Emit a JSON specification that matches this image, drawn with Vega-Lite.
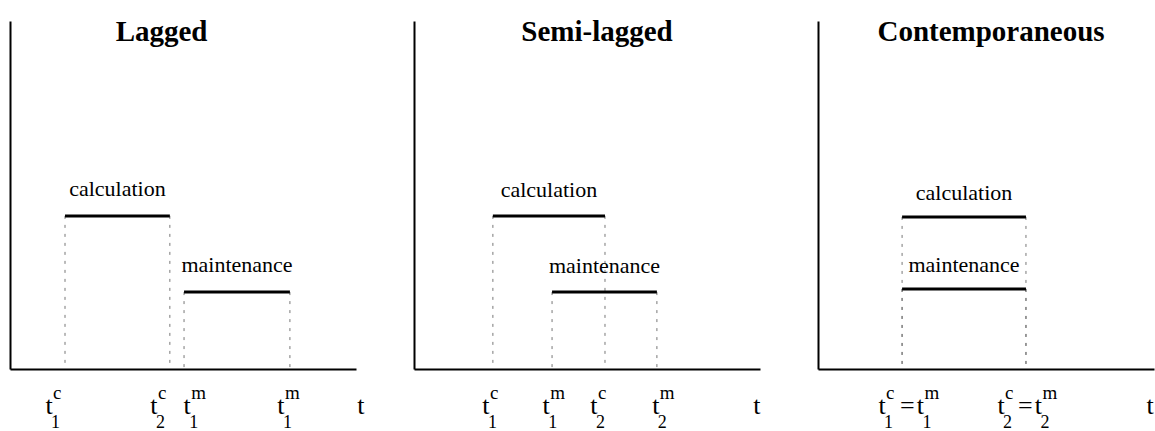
{
  "$schema": "https://vega.github.io/schema/vega-lite/v6.json",
  "background": "white",
  "padding": {"left": 10, "top": 18, "right": 0, "bottom": 0},
  "spacing": 58,
  "bounds": "flush",
  "config": {
    "view": {"stroke": null},
    "axis": {"domain": true, "domainColor": "black", "domainWidth": 2, "ticks": false, "labels": false, "grid": false},
    "text": {"font": "Liberation Serif", "color": "black"}
  },
  "datasets": {
    "processes": [
      {"panel": "Lagged", "process": "calculation", "start": 15.9, "end": 46.2, "level": 44},
      {"panel": "Lagged", "process": "maintenance", "start": 50.3, "end": 80.9, "level": 22.1},
      {"panel": "Semi-lagged", "process": "calculation", "start": 22.8, "end": 55.2, "level": 44},
      {"panel": "Semi-lagged", "process": "maintenance", "start": 39.9, "end": 70.2, "level": 22.1},
      {"panel": "Contemporaneous", "process": "calculation", "start": 24.3, "end": 60.1, "level": 43.7},
      {"panel": "Contemporaneous", "process": "maintenance", "start": 24.3, "end": 60.1, "level": 23}
    ],
    "ticks": [
      {"panel": "Lagged", "pos": 11.3, "main": "t", "sup": "c", "sub": "1"},
      {"panel": "Lagged", "pos": 41.6, "main": "t", "sup": "c", "sub": "2"},
      {"panel": "Lagged", "pos": 51.2, "main": "t", "sup": "m", "sub": "1"},
      {"panel": "Lagged", "pos": 78.3, "main": "t", "sup": "m", "sub": "1"},
      {"panel": "Lagged", "pos": 101.4, "main": "t", "sup": "", "sub": ""},
      {"panel": "Semi-lagged", "pos": 20.8, "main": "t", "sup": "c", "sub": "1"},
      {"panel": "Semi-lagged", "pos": 38.2, "main": "t", "sup": "m", "sub": "1"},
      {"panel": "Semi-lagged", "pos": 52.0, "main": "t", "sup": "c", "sub": "2"},
      {"panel": "Semi-lagged", "pos": 69.9, "main": "t", "sup": "m", "sub": "2"},
      {"panel": "Semi-lagged", "pos": 99.1, "main": "t", "sup": "", "sub": ""},
      {"panel": "Contemporaneous", "pos": 18.5, "main": "t", "sup": "c", "sub": "1"},
      {"panel": "Contemporaneous", "pos": 25.8, "main": "=", "sup": "", "sub": ""},
      {"panel": "Contemporaneous", "pos": 29.6, "main": "t", "sup": "m", "sub": "1"},
      {"panel": "Contemporaneous", "pos": 52.9, "main": "t", "sup": "c", "sub": "2"},
      {"panel": "Contemporaneous", "pos": 59.9, "main": "=", "sup": "", "sub": ""},
      {"panel": "Contemporaneous", "pos": 63.7, "main": "t", "sup": "m", "sub": "2"},
      {"panel": "Contemporaneous", "pos": 96.0, "main": "t", "sup": "", "sub": ""}
    ],
    "titles": [
      {"panel": "Lagged", "title": "Lagged"},
      {"panel": "Semi-lagged", "title": "Semi-lagged"},
      {"panel": "Contemporaneous", "title": "Contemporaneous"}
    ]
  },
  "hconcat": [
    {
      "width": 346, "height": 348,
      "layer": [
        {"data": {"name": "processes"}, "transform": [{"filter": "datum.panel === 'Lagged'"}],
         "mark": {"type": "rule", "strokeDash": [3, 6], "strokeWidth": 1, "color": "#777"},
         "encoding": {
           "x": {"field": "start", "type": "quantitative", "scale": {"domain": [0, 100], "nice": false, "zero": false}, "title": null},
           "y": {"field": "level", "type": "quantitative", "scale": {"domain": [0, 100], "nice": false}, "title": null},
           "y2": {"datum": 0}}},
        {"data": {"name": "processes"}, "transform": [{"filter": "datum.panel === 'Lagged'"}],
         "mark": {"type": "rule", "strokeDash": [3, 6], "strokeWidth": 1, "color": "#777"},
         "encoding": {
           "x": {"field": "end", "type": "quantitative", "title": null},
           "y": {"field": "level", "type": "quantitative", "title": null},
           "y2": {"datum": 0}}},
        {"data": {"name": "processes"}, "transform": [{"filter": "datum.panel === 'Lagged'"}],
         "mark": {"type": "rule", "strokeWidth": 3, "color": "black"},
         "encoding": {
           "x": {"field": "start", "type": "quantitative", "title": null},
           "x2": {"field": "end"},
           "y": {"field": "level", "type": "quantitative", "title": null}}},
        {"data": {"name": "processes"}, "transform": [{"filter": "datum.panel === 'Lagged'"}, {"fold": ["start", "end"], "as": ["edge", "time"]}],
         "mark": {"type": "text", "font": "Liberation Serif", "fontSize": 22, "dy": -20, "baseline": "alphabetic"},
         "encoding": {
           "x": {"aggregate": "mean", "field": "time", "type": "quantitative", "title": null},
           "y": {"aggregate": "mean", "field": "level", "type": "quantitative", "title": null},
           "text": {"field": "process"}}},
        {"data": {"name": "ticks"}, "transform": [{"filter": "datum.panel === 'Lagged'"}],
         "mark": {"type": "text", "font": "Liberation Serif", "fontSize": 26, "dy": 45, "baseline": "alphabetic"},
         "encoding": {
           "x": {"field": "pos", "type": "quantitative", "title": null},
           "y": {"datum": 0},
           "text": {"field": "main"}}},
        {"data": {"name": "ticks"}, "transform": [{"filter": "datum.panel === 'Lagged'"}],
         "mark": {"type": "text", "font": "Liberation Serif", "fontSize": 19, "dy": 30, "dx": 4, "align": "left", "baseline": "alphabetic"},
         "encoding": {
           "x": {"field": "pos", "type": "quantitative", "title": null},
           "y": {"datum": 0},
           "text": {"field": "sup"}}},
        {"data": {"name": "ticks"}, "transform": [{"filter": "datum.panel === 'Lagged'"}],
         "mark": {"type": "text", "font": "Liberation Serif", "fontSize": 18, "dy": 59, "dx": 2, "align": "left", "baseline": "alphabetic"},
         "encoding": {
           "x": {"field": "pos", "type": "quantitative", "title": null},
           "y": {"datum": 0},
           "text": {"field": "sub"}}},
        {"data": {"name": "titles"}, "transform": [{"filter": "datum.panel === 'Lagged'"}],
         "mark": {"type": "text", "font": "Liberation Serif", "fontSize": 29, "fontWeight": "bold", "dy": 20, "baseline": "alphabetic"},
         "encoding": {
           "x": {"datum": 43.8},
           "y": {"datum": 100},
           "text": {"field": "title"}}}
      ]
    },
    {
      "width": 346, "height": 348,
      "layer": [
        {"data": {"name": "processes"}, "transform": [{"filter": "datum.panel === 'Semi-lagged'"}],
         "mark": {"type": "rule", "strokeDash": [3, 6], "strokeWidth": 1, "color": "#777"},
         "encoding": {
           "x": {"field": "start", "type": "quantitative", "scale": {"domain": [0, 100], "nice": false, "zero": false}, "title": null},
           "y": {"field": "level", "type": "quantitative", "scale": {"domain": [0, 100], "nice": false}, "title": null},
           "y2": {"datum": 0}}},
        {"data": {"name": "processes"}, "transform": [{"filter": "datum.panel === 'Semi-lagged'"}],
         "mark": {"type": "rule", "strokeDash": [3, 6], "strokeWidth": 1, "color": "#777"},
         "encoding": {
           "x": {"field": "end", "type": "quantitative", "title": null},
           "y": {"field": "level", "type": "quantitative", "title": null},
           "y2": {"datum": 0}}},
        {"data": {"name": "processes"}, "transform": [{"filter": "datum.panel === 'Semi-lagged'"}],
         "mark": {"type": "rule", "strokeWidth": 3, "color": "black"},
         "encoding": {
           "x": {"field": "start", "type": "quantitative", "title": null},
           "x2": {"field": "end"},
           "y": {"field": "level", "type": "quantitative", "title": null}}},
        {"data": {"name": "processes"}, "transform": [{"filter": "datum.panel === 'Semi-lagged'"}, {"fold": ["start", "end"], "as": ["edge", "time"]}],
         "mark": {"type": "text", "font": "Liberation Serif", "fontSize": 22, "dy": -19, "baseline": "alphabetic"},
         "encoding": {
           "x": {"aggregate": "mean", "field": "time", "type": "quantitative", "title": null},
           "y": {"aggregate": "mean", "field": "level", "type": "quantitative", "title": null},
           "text": {"field": "process"}}},
        {"data": {"name": "ticks"}, "transform": [{"filter": "datum.panel === 'Semi-lagged'"}],
         "mark": {"type": "text", "font": "Liberation Serif", "fontSize": 26, "dy": 45, "baseline": "alphabetic"},
         "encoding": {
           "x": {"field": "pos", "type": "quantitative", "title": null},
           "y": {"datum": 0},
           "text": {"field": "main"}}},
        {"data": {"name": "ticks"}, "transform": [{"filter": "datum.panel === 'Semi-lagged'"}],
         "mark": {"type": "text", "font": "Liberation Serif", "fontSize": 19, "dy": 30, "dx": 4, "align": "left", "baseline": "alphabetic"},
         "encoding": {
           "x": {"field": "pos", "type": "quantitative", "title": null},
           "y": {"datum": 0},
           "text": {"field": "sup"}}},
        {"data": {"name": "ticks"}, "transform": [{"filter": "datum.panel === 'Semi-lagged'"}],
         "mark": {"type": "text", "font": "Liberation Serif", "fontSize": 18, "dy": 59, "dx": 2, "align": "left", "baseline": "alphabetic"},
         "encoding": {
           "x": {"field": "pos", "type": "quantitative", "title": null},
           "y": {"datum": 0},
           "text": {"field": "sub"}}},
        {"data": {"name": "titles"}, "transform": [{"filter": "datum.panel === 'Semi-lagged'"}],
         "mark": {"type": "text", "font": "Liberation Serif", "fontSize": 29, "fontWeight": "bold", "dy": 20, "baseline": "alphabetic"},
         "encoding": {
           "x": {"datum": 52.9},
           "y": {"datum": 100},
           "text": {"field": "title"}}}
      ]
    },
    {
      "width": 336, "height": 348,
      "layer": [
        {"data": {"name": "processes"}, "transform": [{"filter": "datum.panel === 'Contemporaneous'"}],
         "mark": {"type": "rule", "strokeDash": [3, 6], "strokeWidth": 1, "color": "#777"},
         "encoding": {
           "x": {"field": "start", "type": "quantitative", "scale": {"domain": [0, 97.1], "nice": false, "zero": false}, "title": null},
           "y": {"field": "level", "type": "quantitative", "scale": {"domain": [0, 100], "nice": false}, "title": null},
           "y2": {"datum": 0}}},
        {"data": {"name": "processes"}, "transform": [{"filter": "datum.panel === 'Contemporaneous'"}],
         "mark": {"type": "rule", "strokeDash": [3, 6], "strokeWidth": 1, "color": "#777"},
         "encoding": {
           "x": {"field": "end", "type": "quantitative", "title": null},
           "y": {"field": "level", "type": "quantitative", "title": null},
           "y2": {"datum": 0}}},
        {"data": {"name": "processes"}, "transform": [{"filter": "datum.panel === 'Contemporaneous'"}],
         "mark": {"type": "rule", "strokeWidth": 3, "color": "black"},
         "encoding": {
           "x": {"field": "start", "type": "quantitative", "title": null},
           "x2": {"field": "end"},
           "y": {"field": "level", "type": "quantitative", "title": null}}},
        {"data": {"name": "processes"}, "transform": [{"filter": "datum.panel === 'Contemporaneous'"}, {"fold": ["start", "end"], "as": ["edge", "time"]}],
         "mark": {"type": "text", "font": "Liberation Serif", "fontSize": 22, "dy": -17, "baseline": "alphabetic"},
         "encoding": {
           "x": {"aggregate": "mean", "field": "time", "type": "quantitative", "title": null},
           "y": {"aggregate": "mean", "field": "level", "type": "quantitative", "title": null},
           "text": {"field": "process"}}},
        {"data": {"name": "ticks"}, "transform": [{"filter": "datum.panel === 'Contemporaneous'"}],
         "mark": {"type": "text", "font": "Liberation Serif", "fontSize": 26, "dy": 45, "baseline": "alphabetic"},
         "encoding": {
           "x": {"field": "pos", "type": "quantitative", "title": null},
           "y": {"datum": 0},
           "text": {"field": "main"}}},
        {"data": {"name": "ticks"}, "transform": [{"filter": "datum.panel === 'Contemporaneous'"}],
         "mark": {"type": "text", "font": "Liberation Serif", "fontSize": 19, "dy": 30, "dx": 4, "align": "left", "baseline": "alphabetic"},
         "encoding": {
           "x": {"field": "pos", "type": "quantitative", "title": null},
           "y": {"datum": 0},
           "text": {"field": "sup"}}},
        {"data": {"name": "ticks"}, "transform": [{"filter": "datum.panel === 'Contemporaneous'"}],
         "mark": {"type": "text", "font": "Liberation Serif", "fontSize": 18, "dy": 59, "dx": 2, "align": "left", "baseline": "alphabetic"},
         "encoding": {
           "x": {"field": "pos", "type": "quantitative", "title": null},
           "y": {"datum": 0},
           "text": {"field": "sub"}}},
        {"data": {"name": "titles"}, "transform": [{"filter": "datum.panel === 'Contemporaneous'"}],
         "mark": {"type": "text", "font": "Liberation Serif", "fontSize": 29, "fontWeight": "bold", "dy": 20, "baseline": "alphabetic"},
         "encoding": {
           "x": {"datum": 50.0},
           "y": {"datum": 100},
           "text": {"field": "title"}}}
      ]
    }
  ]
}
